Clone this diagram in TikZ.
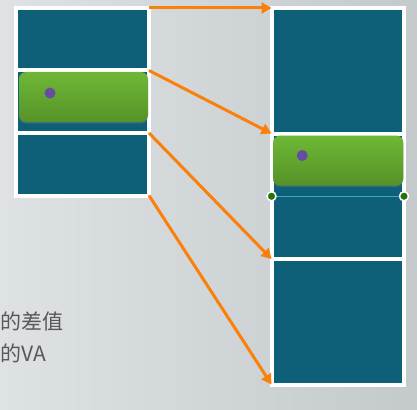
\documentclass[tikz,border=0pt]{standalone}
\usepackage{fontspec}
\newfontfamily\cjk{Noto Sans CJK SC}
\usepackage{xcolor}
\usepackage{tikz}
\usetikzlibrary{arrows.meta,positioning,shadows,calc}

\definecolor{cellteal}{RGB}{14,96,121}
\definecolor{bargreen}{RGB}{110,184,54}
\definecolor{bargreendark}{RGB}{86,146,40}
\definecolor{dotpurple}{RGB}{104,76,160}
\definecolor{arroworange}{RGB}{250,128,10}
\definecolor{pingreen}{RGB}{36,118,8}
\definecolor{linecyan}{RGB}{60,170,190}
\definecolor{textgray}{RGB}{88,88,88}
\definecolor{bgleft}{RGB}{222,226,228}
\definecolor{bgright}{RGB}{196,201,204}

\begin{document}
\begin{tikzpicture}[x=1pt,y=1pt,node distance=0pt,
    cell/.style={draw=white,line width=4pt,fill=cellteal,outer sep=0pt,inner sep=0pt,
      drop shadow={opacity=0.2,shadow xshift=1.5pt,shadow yshift=-1.5pt}},
    smallcell/.style={cell,minimum width=133pt,minimum height=62.5pt},
    bigcell/.style={cell,minimum width=132.5pt,minimum height=125.5pt},
    bar/.style={rounded corners=7pt,top color=bargreen,bottom color=bargreendark,minimum height=50pt,
      inner sep=0pt,outer sep=0pt,drop shadow={opacity=0.35,shadow xshift=0pt,shadow yshift=-1.5pt}},
    dot/.style={circle,fill=dotpurple,minimum size=11pt,inner sep=0pt},
    pin/.style={circle,draw=white,line width=1.5pt,fill=pingreen,minimum size=9pt,inner sep=0pt},
    arrow/.style={-{Triangle[length=10pt,width=11pt]},line width=3pt,draw=arroworange}]
  \shade[left color=bgleft,right color=bgright] (0,0) rectangle (417,-409);
  \useasboundingbox (0,0) rectangle (417,-409);
  % left column
  \node[smallcell,anchor=north west] (l1) at (16,-8) {};
  \node[smallcell,below=of l1] (l2) {};
  \node[smallcell,below=of l2] (l3) {};
  \node[bar,minimum width=129pt,anchor=north] (lbar) at ($(l2.north)+(1,-1.5)$) {};
  \node[dot] (ldot) at ($(lbar.north west)+(31,-21)$) {};
  % right column
  \node[bigcell,anchor=north west] (r1) at (271.5,-8) {};
  \node[bigcell,below=of r1] (r2) {};
  \node[bigcell,below=of r2] (r3) {};
  \node[bar,minimum width=130pt,anchor=north] (rbar) at ($(r2.north)+(0.5,-2)$) {};
  \node[dot] (rdot) at ($(rbar.north west)+(29,-20)$) {};
  \node[pin] (pl) at (r2.west) {};
  \node[pin] (pr) at (r2.east) {};
  \draw[linecyan,line width=0.8pt] (pl) -- (pr);
  % arrows
  \draw[arrow] (l1.north east) -- (r1.north west);
  \draw[arrow] (l2.north east) -- (r2.north west);
  \draw[arrow] (l3.north east) -- (r3.north west);
  \draw[arrow] (l3.south east) -- (r3.south west);
  \node[anchor=west,align=left,inner sep=0pt,text=textgray,
    font=\cjk\fontsize{21}{32}\selectfont] (note) at (0.5,-337) {的差值\\的VA};
\end{tikzpicture}
\end{document}
